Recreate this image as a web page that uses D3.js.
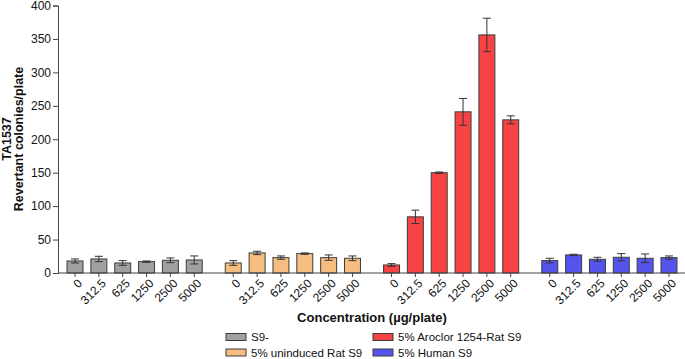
<!DOCTYPE html>
<html>
<head>
<meta charset="utf-8">
<script src="https://cdn.jsdelivr.net/npm/d3@7"></script>
<style>
  body { margin: 0; background: #fff; }
  text { font-family: "Liberation Sans", Arial, sans-serif; fill: #111; }
</style>
</head>
<body>
<script>
var groups = ["S9-", "5% uninduced Rat S9", "5% Aroclor 1254-Rat S9", "5% Human S9"];
var doses = ["0", "312.5", "625", "1250", "2500", "5000"];
var colors = ["#a0a0a2", "#f5bd80", "#f74343", "#5555ee"];

// mean revertants per dose, one array per S9 condition
var meanS9none = [18, 21, 15, 17, 19, 19.5];
var meanRatUnind = [15, 30, 23, 29, 23, 22];
var meanAroclor = [12, 84, 150, 241, 356, 229];
var meanHuman = [18.5, 27, 20.5, 23.5, 22, 23];
// error bars (+/-)
var errS9none = [3, 4, 3.5, 1, 3.5, 6];
var errRatUnind = [3.5, 2.5, 2.5, 1, 4, 3.5];
var errAroclor = [2, 10, 1, 20, 25, 6];
var errHuman = [3.5, 1, 3, 5.5, 6.5, 2.5];

var yTicks = [0, 50, 100, 150, 200, 250, 300, 350, 400];

var means = [meanS9none, meanRatUnind, meanAroclor, meanHuman];
var errs = [errS9none, errRatUnind, errAroclor, errHuman];

var width = 685, height = 359;
var svg = d3.select("body").append("svg")
    .attr("width", width)
    .attr("height", height);

var y = d3.scaleLinear().domain([0, 400]).range([273, 5.5]);

var x0 = d3.scaleBand()
    .domain(groups)
    .range([63.1, 680.9])
    .paddingInner(0.096);

var x1 = d3.scaleBand()
    .domain(doses)
    .range([0, x0.bandwidth()])
    .paddingInner(0.33)
    .paddingOuter(0.165);

var data = [];
groups.forEach(function (g, gi) {
    doses.forEach(function (d, di) {
        data.push({group: g, gi: gi, dose: d, mean: means[gi][di], err: errs[gi][di]});
    });
});

// bars
svg.selectAll(".bar")
    .data(data)
    .enter()
    .append("rect")
    .attr("class", "bar")
    .attr("x", function (d) { return x0(d.group) + x1(d.dose); })
    .attr("width", x1.bandwidth())
    .attr("y", function (d) { return y(d.mean); })
    .attr("height", function (d) { return y(0) - y(d.mean); })
    .attr("fill", function (d) { return colors[d.gi]; })
    .attr("stroke", "#3c3c3c")
    .attr("stroke-width", 1);

// error bars
var eb = svg.selectAll(".err")
    .data(data)
    .enter()
    .append("g")
    .attr("class", "err")
    .attr("stroke", "#333")
    .attr("stroke-width", 1);

function cx(d) { return x0(d.group) + x1(d.dose) + x1.bandwidth() / 2; }

eb.append("line")
    .attr("x1", cx).attr("x2", cx)
    .attr("y1", function (d) { return y(d.mean + d.err); })
    .attr("y2", function (d) { return y(d.mean - d.err); });
eb.append("line")
    .attr("x1", function (d) { return cx(d) - 4; })
    .attr("x2", function (d) { return cx(d) + 4; })
    .attr("y1", function (d) { return y(d.mean + d.err); })
    .attr("y2", function (d) { return y(d.mean + d.err); });
eb.append("line")
    .attr("x1", function (d) { return cx(d) - 4; })
    .attr("x2", function (d) { return cx(d) + 4; })
    .attr("y1", function (d) { return y(d.mean - d.err); })
    .attr("y2", function (d) { return y(d.mean - d.err); });

// y axis
var gy = svg.append("g")
    .attr("transform", "translate(58,0)")
    .call(d3.axisLeft(y).tickValues(yTicks).tickSize(5).tickPadding(2));
gy.selectAll("text").style("font-size", "12px");
gy.selectAll("line, path").attr("stroke", "#444");

// x axis line + ticks + rotated labels
svg.append("line")
    .attr("x1", 58).attr("x2", width)
    .attr("y1", y(0)).attr("y2", y(0))
    .attr("stroke", "#444");

var xt = svg.selectAll(".xt")
    .data(data)
    .enter()
    .append("g")
    .attr("class", "xt")
    .attr("transform", function (d) { return "translate(" + cx(d) + "," + y(0) + ")"; });
xt.append("line")
    .attr("y1", 0).attr("y2", 4)
    .attr("stroke", "#444");
xt.append("text")
    .attr("transform", "translate(5,8) rotate(-45)")
    .attr("text-anchor", "end")
    .attr("dy", "0.35em")
    .style("font-size", "12px")
    .text(function (d) { return d.dose; });

// axis titles
svg.append("text")
    .attr("x", 372)
    .attr("y", 322)
    .attr("text-anchor", "middle")
    .style("font-size", "13px")
    .style("font-weight", "bold")
    .text("Concentration (µg/plate)");

var yt = svg.append("text")
    .attr("transform", "translate(12,139) rotate(-90)")
    .attr("text-anchor", "middle")
    .style("font-size", "12.5px")
    .style("font-weight", "bold");
yt.append("tspan").attr("x", 0).attr("dy", "-0.1em").text("TA1537");
yt.append("tspan").attr("x", 0).attr("dy", "1.0em").text("Revertant colonies/plate");

// legend
var legPos = [[226, 337], [226, 352.5], [373, 337], [373, 352.5]];
var leg = svg.selectAll(".leg")
    .data(groups)
    .enter()
    .append("g")
    .attr("class", "leg")
    .attr("transform", function (d, i) { return "translate(" + legPos[i][0] + "," + legPos[i][1] + ")"; });
leg.append("rect")
    .attr("x", 0).attr("y", -3.5)
    .attr("width", 20).attr("height", 7)
    .attr("fill", function (d, i) { return colors[i]; })
    .attr("stroke", "#3c3c3c");
leg.append("text")
    .attr("x", 25)
    .attr("dy", "0.36em")
    .style("font-size", "11.5px")
    .text(function (d) { return d; });
</script>
</body>
</html>
